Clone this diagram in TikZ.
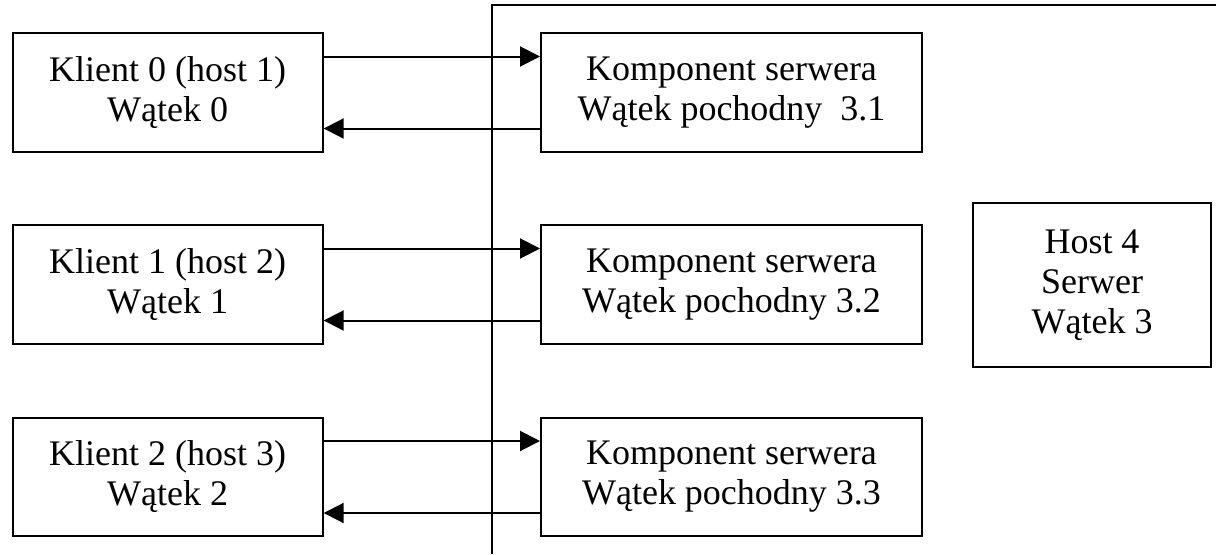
\documentclass[tikz,border=0pt]{standalone}
\usepackage{fontspec}
\setmainfont{Liberation Serif}
\usetikzlibrary{arrows.meta}

\tikzset{
    box/.style={draw, line width=1.5pt, align=center, inner sep=0pt,
        font=\fontsize{27}{30}\selectfont},
    klient/.style={box, minimum width=232.5pt, minimum height=88.9pt},
    serwer/.style={box, minimum width=285.75pt, minimum height=88.9pt},
    host/.style={box, minimum width=178.5pt, minimum height=123pt},
    msg/.style={line width=1.5pt, -{Triangle[length=15pt, width=15pt]}}
}

\begin{document}
\begin{tikzpicture}[x=0.75pt, y=-0.75pt]
    \useasboundingbox (0,0) rectangle (1216,554);

    % granica hosta 4
    \draw[line width=1.5pt] (492,554) -- (492,5) -- (1216,5);

    \foreach \i/\h/\y/\nr in {0/1/92.5/{\ 3.1}, 1/2/284.5/3.2, 2/3/477/3.3} {
        \node[klient] (k\i) at (167.7,\y) {Klient \i\ (host \h)\\Wątek \i};
        \node[serwer] (s\i) at (731.5,\y) {Komponent serwera\\Wątek pochodny \nr};
        \draw[msg] ([yshift=27pt]k\i.east) -- ([yshift=27pt]s\i.west);
        \draw[msg] ([yshift=-27pt]s\i.west) -- ([yshift=-27pt]k\i.east);
    }

    \node[host] (h4) at (1092,285) {Host 4\\Serwer\\Wątek 3};
\end{tikzpicture}
\end{document}
